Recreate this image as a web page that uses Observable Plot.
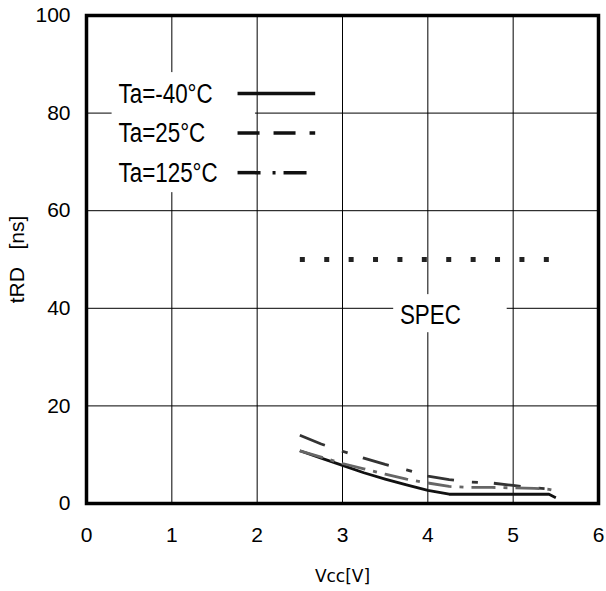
<!DOCTYPE html>
<html><head><meta charset="utf-8">
<script src="https://cdn.jsdelivr.net/npm/d3@7"></script>
<script src="https://cdn.jsdelivr.net/npm/@observablehq/plot@0.6"></script>
<style>body{margin:0;background:#fff}</style>
</head><body><div id="chart"></div>
<script>
// ---- data ----
const vcc     = [2.5, 2.75, 3.0, 3.25, 3.5, 3.75, 4.0, 4.25, 4.5, 4.75, 5.0, 5.25, 5.42, 5.5];
const tRdM40  = [10.8, 9.3, 7.8, 6.3, 5.0, 3.8, 2.7, 1.9, 1.9, 1.9, 1.9, 1.9, 1.9, 1.2];
const tRd25   = [14.0, 12.2, 10.7, 9.3, 8.0, 6.9, 5.6, 4.9, 4.4, 4.2, 3.7, 3.2, 3.0, 2.9];
const tRd125  = [10.8, 9.5, 8.2, 7.1, 6.0, 5.0, 4.2, 3.5, 3.3, 3.3, 3.2, 3.1, 2.9, 2.6];
const seriesLabels = ["Ta=-40°C", "Ta=25°C", "Ta=125°C"];
const specVcc = [2.5, 5.5];
const specValue = 50;
const specLabel = "SPEC";
const xTicks = [0, 1, 2, 3, 4, 5, 6];
const yTicks = [0, 20, 40, 60, 80, 100];
const xLabel = "Vcc[V]";
const yLabel = "tRD\u00a0\u00a0\u00a0[ns]";

// ---- styles / layout ----
const seriesValues = [tRdM40, tRd25, tRd125];
const styles = [
  {stroke: "#111", dash: null, legDash: null, x2: 2.68},
  {stroke: "#333", dash: "27,18,6,16", legDash: "22,14", x2: 2.68},
  {stroke: "#666", dash: "24,8,4,8", legDash: "23,12,3,8", x2: 2.6}
];
const fontMain = "'Liberation Sans', Arial, sans-serif";
const legTextX = 0.375, legLineX1 = 1.77;
const legY = i => 84 - 8.1 * i;
const legendBox = {x1: 0.3, x2: 1.98, y1: 63.7, y2: 88.3};
const specBox = {x1: 3.6, x2: 4.93, y1: 35, y2: 42.8};
const specPos = {x: 4.03, y: 38.7};

const marks = [
  Plot.gridX(xTicks, {stroke: "black", strokeOpacity: 1, strokeWidth: 1}),
  Plot.gridY(yTicks, {stroke: "black", strokeOpacity: 1, strokeWidth: 1}),
  Plot.rect([legendBox], {x1: "x1", x2: "x2", y1: "y1", y2: "y2", fill: "white"}),
  Plot.rect([specBox], {x1: "x1", x2: "x2", y1: "y1", y2: "y2", fill: "white"}),
  Plot.frame({stroke: "black", strokeWidth: 3.5}),
  Plot.axisX(xTicks, {tickSize: 0, tickPadding: 24, fontSize: 21, label: null}),
  Plot.axisY(yTicks, {tickSize: 0, tickPadding: 16, fontSize: 21, label: null}),
  Plot.text([xLabel], {frameAnchor: "bottom", dy: 78, fontSize: 17, fontFamily: "DejaVu Sans"}),
  Plot.text([yLabel], {frameAnchor: "left", dx: -69, rotate: -90, textAnchor: "middle", fontSize: 21})
];

seriesValues.forEach((vals, i) => {
  const st = styles[i];
  const rows = vals.map((v, j) => ({vcc: vcc[j], t: v}));
  marks.push(Plot.line(rows, {x: "vcc", y: "t", stroke: st.stroke, strokeWidth: 2.8,
    strokeDasharray: st.dash, strokeLinecap: "butt"}));
  marks.push(Plot.link([seriesLabels[i]], {x1: () => legLineX1, x2: () => st.x2,
    y1: () => legY(i), y2: () => legY(i), stroke: "#111", strokeWidth: 3.5,
    strokeDasharray: st.legDash, strokeLinecap: "butt"}));
  marks.push(Plot.text([seriesLabels[i]], {x: () => legTextX, y: () => legY(i),
    text: d => d, textAnchor: "start", fontSize: 28, fontFamily: fontMain}));
});

marks.push(Plot.line(specVcc.map(x => ({x, y: specValue})), {x: "x", y: "y",
  stroke: "#222", strokeWidth: 5, strokeDasharray: "5,19.4", strokeLinecap: "butt"}));
marks.push(Plot.text([specLabel], {x: () => specPos.x, y: () => specPos.y, text: d => d,
  fontSize: 28, fontFamily: fontMain}));

const chart = Plot.plot({
  width: 606, height: 591,
  marginLeft: 86, marginRight: 8, marginTop: 15, marginBottom: 88,
  x: {domain: [0, 6], label: null},
  y: {domain: [0, 100], label: null},
  style: {fontFamily: fontMain, fontSize: "21px", color: "black", background: "white"},
  marks
});

// condense the tall, narrow label font of the original
const narrowTexts = new Set([...seriesLabels, specLabel]);
d3.select(chart).selectAll("text")
  .filter(function () { return narrowTexts.has(this.textContent); })
  .each(function () {
    const t = this.getAttribute("transform");
    if (t) this.setAttribute("transform", t + " scale(0.8,1)");
    else {
      const x = +this.getAttribute("x") || 0, y = +this.getAttribute("y") || 0;
      this.setAttribute("transform", `translate(${x},${y}) scale(0.8,1) translate(${-x},${-y})`);
    }
  });
document.getElementById("chart").appendChild(chart);
</script>
</body></html>
